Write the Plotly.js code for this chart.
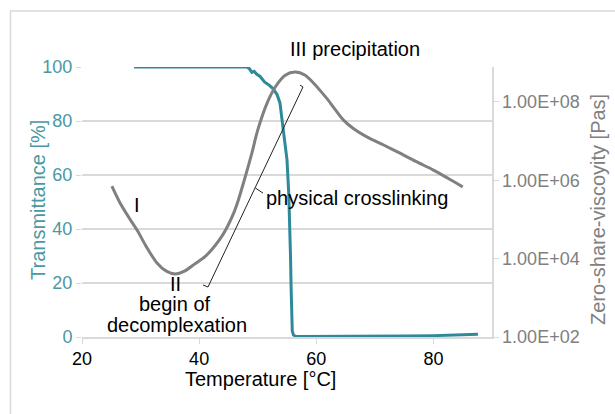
<!DOCTYPE html>
<html>
<head>
<meta charset="utf-8">
<script src="https://cdn.plot.ly/plotly-3.0.1.min.js"></script>
<style>html,body{margin:0;padding:0;background:#fff;}</style>
</head>
<body>
<div id="chart" style="width:615px;height:414px;"></div>
<script>
// Transmittance [%] vs temperature [°C]
const transTemp = [28.9, 32, 36, 40, 44, 47, 48.2, 48.6, 49.0, 49.4, 49.8, 50.4, 51.2, 52.0, 52.6, 53.3, 53.8, 54.3, 54.7, 55.0, 55.3, 55.5, 55.6, 55.7, 55.75, 55.8, 55.9, 56.1, 56.4, 57, 60, 65, 70, 75, 80, 84, 87.6];
const transVal  = [100, 100, 100, 100, 100, 100, 100, 99.3, 98.0, 98.4, 97.4, 96.5, 94.4, 93.2, 92.0, 89.8, 86.7, 77.8, 71.0, 65.6, 53.0, 40.7, 30.0, 18.5, 10.0, 5.0, 2.2, 0.8, 0.3, 0.2, 0.2, 0.2, 0.3, 0.4, 0.5, 0.7, 1.0];

// Zero-shear viscosity [Pas] vs temperature [°C] (log10 values)
const viscTemp = [25.1, 26.5, 28.0, 29.4, 31.0, 32.8, 34.4, 35.9, 37.5, 39.3, 41.0, 42.7, 44.0, 44.9, 46.0, 46.6, 47.8, 49.0, 50.0, 51.6, 53.0, 54.7, 56.4, 58.1, 59.4, 60.6, 62.0, 62.9, 64.6, 66.5, 68.7, 71.5, 74.3, 77.0, 80.0, 82.5, 85.0];
const viscLog  = [5.85, 5.42, 5.05, 4.73, 4.30, 3.89, 3.68, 3.61, 3.68, 3.87, 4.05, 4.33, 4.60, 4.84, 5.20, 5.45, 6.05, 6.69, 7.28, 7.97, 8.38, 8.68, 8.76, 8.68, 8.50, 8.30, 8.05, 7.87, 7.54, 7.30, 7.10, 6.90, 6.69, 6.48, 6.26, 6.05, 5.83];
const viscVal = viscLog.map(v => Math.pow(10, v));

// Axis ticks
const xTicks = [20, 40, 60, 80];
const yTicks = [0, 20, 40, 60, 80, 100];
const y2Ticks = [1e2, 1e4, 1e6, 1e8];
const y2Labels = ["1.00E+02", "1.00E+04", "1.00E+06", "1.00E+08"];

const teal = "#2e8a9a";
const tealText = "#4a98a3";
const grey = "#808080";
const gridC = "#d9d9d9";
const font = "Liberation Sans, Arial, sans-serif";

const traces = [
  {x: viscTemp, y: viscVal, yaxis: "y2", type: "scatter", mode: "lines",
   line: {color: grey, width: 3, shape: "spline", smoothing: 0.8}, hoverinfo: "skip"},
  {x: transTemp, y: transVal, type: "scatter", mode: "lines",
   line: {color: teal, width: 3}, hoverinfo: "skip"}
];

const annText = (text, x, y, extra) => Object.assign({
  text: text, x: x, y: y, xref: "x", yref: "y", showarrow: false,
  xanchor: "center", yanchor: "middle",
  font: {family: font, size: 20, color: "#000"}
}, extra || {});

const layout = {
  width: 615, height: 414,
  margin: {l: 82, r: 123, t: 67, b: 77},
  paper_bgcolor: "#fff", plot_bgcolor: "#fff",
  showlegend: false,
  font: {family: font, size: 18, color: "#000"},
  xaxis: {
    range: [20, 90], tickvals: xTicks, ticks: "outside", ticklen: 5, tickcolor: gridC,
    showline: true, linecolor: gridC, linewidth: 1.5, showgrid: false, zeroline: false,
    tickfont: {family: font, size: 18, color: "#000"}
  },
  yaxis: {
    range: [0, 100], tickvals: yTicks, ticks: "outside", ticklen: 5, tickcolor: gridC,
    showline: false, showgrid: true, gridcolor: gridC, gridwidth: 1.5, zeroline: false,
    tickfont: {family: font, size: 18, color: tealText}
  },
  yaxis2: {
    type: "log", range: [2, 8.89], overlaying: "y", side: "right",
    tickvals: y2Ticks, ticktext: y2Labels, ticks: "outside", ticklen: 5, tickcolor: gridC,
    showline: true, linecolor: gridC, linewidth: 1.5, showgrid: false, zeroline: false,
    tickfont: {family: font, size: 18, color: grey}
  },
  annotations: [
    annText("III precipitation", (355 - 82) / 410, (337 - 49) / 270, {xref: "paper", yref: "paper"}),
    annText("I", 29.4, 48.9),
    annText("II", 35.9, 19.8),
    annText("begin of", 35.9, 12.2),
    annText("decomplexation", 36.2, 4.4),
    annText("physical crosslinking", 66.9, 51.5),
    annText("Temperature [°C]", (260 - 82) / 410, (337 - 379) / 270, {xref: "paper", yref: "paper"}),
    annText("Transmittance [%]", (38 - 82) / 410, (337 - 200) / 270,
      {xref: "paper", yref: "paper", textangle: -90, font: {family: font, size: 20, color: tealText}}),
    annText("Zero-share-viscoyity [Pas]", (598 - 82) / 410, (337 - 210) / 270,
      {xref: "paper", yref: "paper", textangle: -90, font: {family: font, size: 20, color: grey}})
  ],
  shapes: [
    {type: "path", xref: "x", yref: "y",
     path: "M40.66,19.26 L41.51,18.52 L57.73,92.6 L57.22,93.3",
     line: {color: "#222", width: 1}},
    {type: "line", xref: "x", yref: "y", x0: 49.6, y0: 55.2, x1: 50.9, y1: 53.3,
     line: {color: "#222", width: 1}},
    {type: "path", xref: "paper", yref: "paper",
     path: "M-0.1744,-0.3 L-0.1744,1.2074 L1.31,1.2074",
     line: {color: gridC, width: 1.5}}
  ]
};

Plotly.newPlot("chart", traces, layout, {staticPlot: true, displayModeBar: false});
</script>
</body>
</html>
